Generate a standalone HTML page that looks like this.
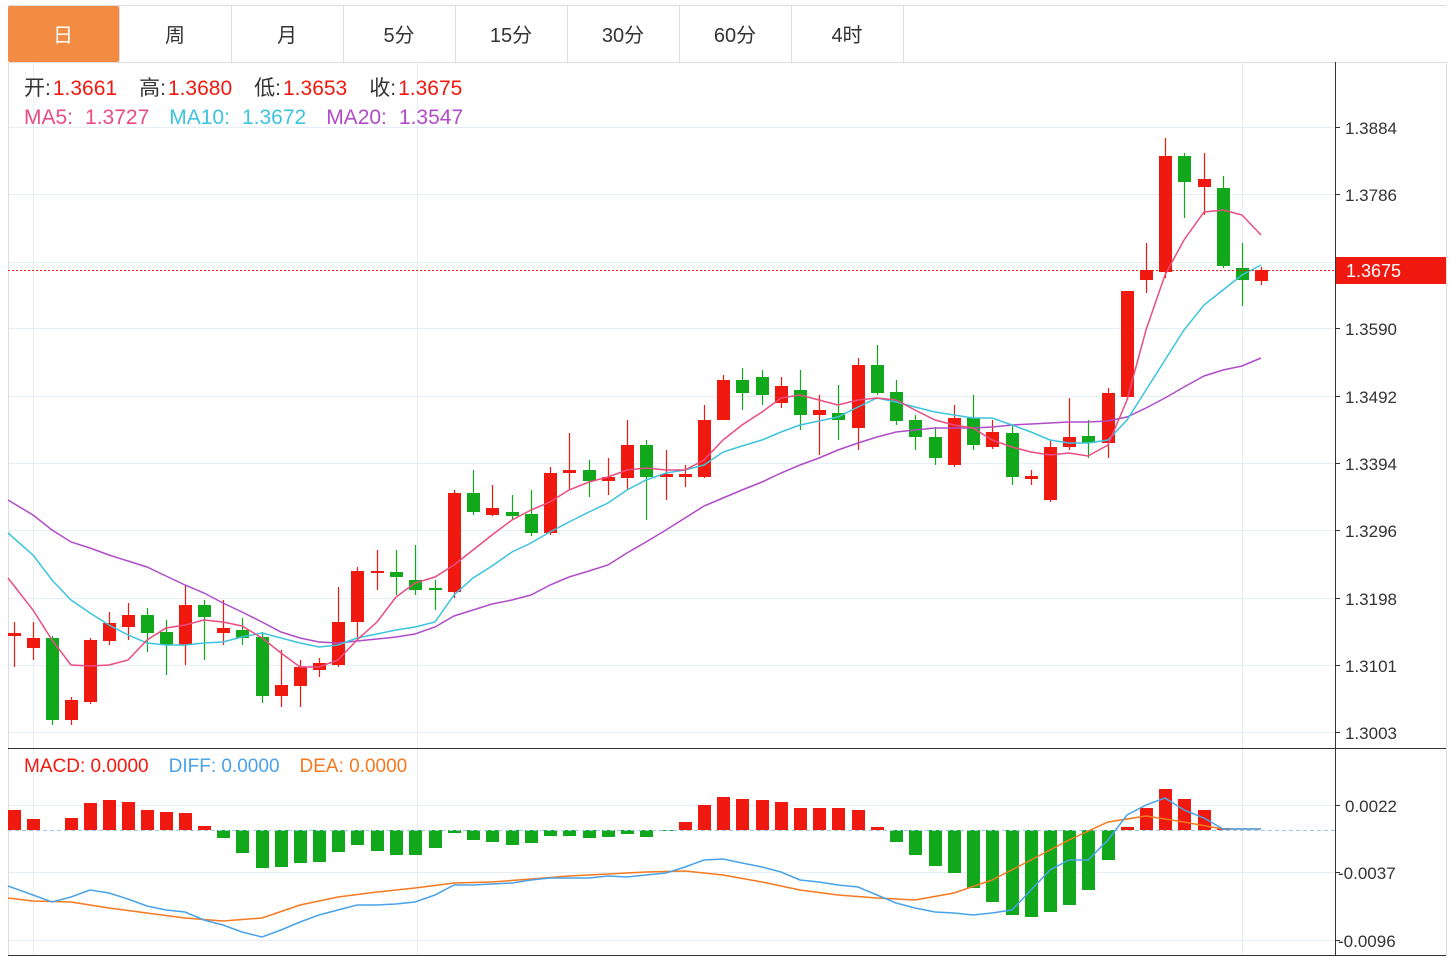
<!DOCTYPE html><html><head><meta charset="utf-8"><style>
body{margin:0;background:#fff;width:1452px;height:958px;overflow:hidden;font-family:"Liberation Sans","Noto Sans CJK SC",sans-serif}
svg{position:absolute;left:0;top:0}
</style></head><body>
<svg id="s" width="1452" height="958" xmlns="http://www.w3.org/2000/svg" font-family="Liberation Sans, Noto Sans CJK SC, sans-serif"></svg>
<script>
const s=document.getElementById('s');let h='';
h+='<line x1="8" y1="5.5" x2="1446" y2="5.5" stroke="#ddd"/><line x1="8" y1="62.5" x2="1446" y2="62.5" stroke="#ddd"/>';
h+='<rect x="8" y="6" width="111" height="56" rx="2" fill="#f28c42"/>';
const tabs=['日','周','月','5分','15分','30分','60分','4时'];
tabs.forEach((t,i)=>{const x=8+i*112;h+=`<text x="${x+55}" y="42" text-anchor="middle" font-size="20" fill="${i?'#333':'#fff'}">${t}</text>`;if(i>0)h+=`<line x1="${x-0.5}" y1="6" x2="${x-0.5}" y2="62" stroke="#ddd"/>`;});
h+='<line x1="903.5" y1="6" x2="903.5" y2="62" stroke="#ddd"/>';
const yl=[[127,'1.3884'],[194,'1.3786'],[262,'1.3688'],[328,'1.3590'],[396,'1.3492'],[463,'1.3394'],[530,'1.3296'],[598,'1.3198'],[665,'1.3101'],[732,'1.3003']];
yl.forEach(([y,t])=>{h+=`<line x1="8" y1="${y+.5}" x2="1335" y2="${y+.5}" stroke="#e6eef5"/><line x1="1335" y1="${y+.5}" x2="1340" y2="${y+.5}" stroke="#333"/><text x="1345" y="${y+7}" font-size="17" fill="#333">${t}</text>`});
[[805,'0.0022'],[872,'-0.0037'],[940,'-0.0096']].forEach(([y,t])=>{h+=`<line x1="8" y1="${y+.5}" x2="1335" y2="${y+.5}" stroke="#e6eef5"/><line x1="1335" y1="${y+.5}" x2="1340" y2="${y+.5}" stroke="#333"/><text x="${t[0]=='-'?1338:1345}" y="${y+7}" font-size="17" fill="#333">${t}</text>`});
[33,417,1242].forEach(x=>h+=`<line x1="${x+.5}" y1="62" x2="${x+.5}" y2="955" stroke="#e3eef8"/>`);
h+='<line x1="8.5" y1="62" x2="8.5" y2="955" stroke="#ddd"/><line x1="1446.5" y1="62" x2="1446.5" y2="955" stroke="#ddd"/>';
h+='<line x1="1335.5" y1="62" x2="1335.5" y2="955" stroke="#333"/><line x1="8" y1="748.5" x2="1446" y2="748.5" stroke="#333"/><line x1="8" y1="955.5" x2="1446" y2="955.5" stroke="#333"/>';
const c=[[14,636,633,622,667],[33,648,638,622,660],[52,638,720,636,725],[71,720,700,697,725],[90,702,640,638,704],[109,641,623,612,645],[128,627,615,603,640],[147,615,633,608,652],[166,632,645,620,675],[185,645,605,585,665],[204,605,617,600,660],[223,633,628,600,645],[242,630,638,618,645],[262,637,696,632,703],[281,696,685,650,707],[300,686,667,660,707],[319,670,663,658,677],[338,665,622,587,667],[357,622,571,567,640],[377,573,571,550,590],[396,572,577,550,595],[415,580,590,545,595],[435,588,590,580,610],[454,592,493,490,598],[473,493,512,470,515],[492,515,508,485,516],[512,512,516,495,520],[531,514,533,490,536],[550,533,473,467,535],[569,473,470,433,490],[589,470,481,460,497],[608,481,477,458,495],[627,478,445,420,490],[646,445,477,440,520],[666,477,474,450,500],[685,477,474,465,487],[704,477,420,405,478],[723,420,380,375,420],[742,380,393,368,410],[762,377,395,370,405],[781,403,386,377,408],[800,390,415,370,430],[819,415,410,395,455],[838,413,420,385,440],[858,428,365,358,450],[877,365,393,345,395],[896,392,421,380,425],[915,420,437,415,450],[935,437,458,427,465],[954,465,418,405,467],[973,418,445,395,450],[992,447,432,420,449],[1012,433,477,425,485],[1031,479,476,470,485],[1050,500,447,440,502],[1069,447,437,398,450],[1088,436,443,420,458],[1108,443,393,388,458],[1127,397,291,291,400],[1146,280,270,243,293],[1165,272,156,138,278],[1184,156,182,153,218],[1204,187,179,153,215],[1223,188,266,176,268],[1242,268,280,243,306],[1261,281,270,267,285]];
c.forEach(([x,o,cl,hi,lo])=>{const r=cl<=o,col=r?'#f0190f':'#12a81c';h+=`<line x1="${x+.5}" y1="${hi}" x2="${x+.5}" y2="${lo}" stroke="${col}" stroke-width="1.2"/><rect x="${x-6}" y="${Math.min(o,cl)}" width="13" height="${Math.max(2,Math.abs(o-cl))}" fill="${col}"/>`});
function pl(p,col){return `<polyline fill="none" stroke="${col}" stroke-width="1.5" points="${p.map(a=>a.join(',')).join(' ')}"/>`}
const ma5=[[8,578],[33,610],[52,640],[71,665],[90,666],[109,665],[128,660],[147,640],[166,628],[185,625],[204,620],[223,622],[242,626],[262,638],[281,653],[300,667],[319,667],[338,660],[357,640],[377,622],[396,597],[415,583],[435,577],[454,565],[473,550],[492,535],[512,520],[531,510],[550,502],[569,490],[589,482],[608,477],[627,470],[646,468],[666,470],[685,470],[704,460],[723,440],[742,425],[762,412],[781,398],[800,395],[819,400],[838,405],[858,400],[877,398],[896,400],[915,410],[935,420],[954,425],[973,428],[992,440],[1012,447],[1031,452],[1050,455],[1069,453],[1088,456],[1108,445],[1127,400],[1146,330],[1165,275],[1184,240],[1204,212],[1223,210],[1242,215],[1261,235]];
const ma10=[[8,533],[33,555],[52,580],[71,600],[90,613],[109,625],[128,635],[147,643],[166,645],[185,645],[204,643],[223,642],[242,637],[262,633],[281,638],[300,643],[319,647],[338,645],[357,638],[377,634],[396,630],[415,627],[435,622],[454,595],[473,578],[492,566],[512,552],[531,543],[550,532],[569,522],[589,512],[608,503],[627,490],[646,480],[666,473],[685,470],[704,465],[723,452],[742,446],[762,440],[781,432],[800,425],[819,421],[838,417],[858,407],[877,398],[896,402],[915,407],[935,412],[954,415],[973,418],[992,418],[1012,425],[1031,432],[1050,440],[1069,443],[1088,443],[1108,440],[1127,420],[1146,390],[1165,360],[1184,330],[1204,305],[1223,290],[1242,275],[1261,265]];
const ma20=[[8,500],[33,515],[52,530],[71,542],[90,548],[109,555],[128,561],[147,567],[166,576],[185,585],[204,593],[223,603],[242,612],[262,622],[281,632],[300,638],[319,642],[338,643],[357,641],[377,639],[396,637],[415,634],[435,627],[454,616],[473,610],[492,604],[512,600],[531,595],[550,585],[569,577],[589,571],[608,565],[627,553],[646,542],[666,530],[685,518],[704,506],[723,498],[742,490],[762,482],[781,473],[800,465],[819,458],[838,450],[858,443],[877,437],[896,432],[915,430],[935,428],[954,428],[973,428],[992,427],[1012,425],[1031,424],[1050,423],[1069,422],[1088,422],[1108,421],[1127,417],[1146,408],[1165,398],[1184,387],[1204,376],[1223,370],[1242,366],[1261,358]];
h+=pl(ma20,'#b04cc8')+pl(ma10,'#3cc4de')+pl(ma5,'#e94c82');
h+='<line x1="8" y1="270.5" x2="1335" y2="270.5" stroke="#f0190f" stroke-dasharray="2,2"/><rect x="1336" y="257" width="110" height="27" fill="#f0190f"/><text x="1346" y="277" font-size="18" fill="#fff">1.3675</text>';
h+='<text x="24" y="95" font-size="21"><tspan fill="#333">开:</tspan><tspan fill="#f0190f" dx="2">1.3661</tspan><tspan fill="#333" dx="22">高:</tspan><tspan fill="#f0190f" dx="2">1.3680</tspan><tspan fill="#333" dx="22">低:</tspan><tspan fill="#f0190f" dx="2">1.3653</tspan><tspan fill="#333" dx="22">收:</tspan><tspan fill="#f0190f" dx="2">1.3675</tspan></text>';
h+='<text x="24" y="124" font-size="21"><tspan fill="#e94c82">MA5:</tspan><tspan fill="#e94c82" dx="12">1.3727</tspan><tspan fill="#3cc4de" dx="20">MA10:</tspan><tspan fill="#3cc4de" dx="12">1.3672</tspan><tspan fill="#b04cc8" dx="20">MA20:</tspan><tspan fill="#b04cc8" dx="12">1.3547</tspan></text>';
h+='<text x="24" y="772" font-size="19"><tspan fill="#f0190f">MACD: 0.0000</tspan><tspan fill="#4aa3e8" dx="20">DIFF: 0.0000</tspan><tspan fill="#f47920" dx="20">DEA: 0.0000</tspan></text>';
const mb=[[14,810],[33,819],[71,818],[90,803],[109,800],[128,802],[147,810],[166,812],[185,813],[204,826],[223,838],[242,853],[262,868],[281,867],[300,863],[319,862],[338,852],[357,845],[377,851],[396,855],[415,855],[435,848],[454,833],[473,840],[492,842],[512,845],[531,843],[550,836],[569,836],[589,838],[608,837],[627,834],[646,837],[666,831],[685,822],[704,805],[723,797],[742,799],[762,800],[781,802],[800,808],[819,808],[838,808],[858,810],[877,827],[896,842],[915,855],[935,866],[954,873],[973,888],[992,902],[1012,915],[1031,917],[1050,912],[1069,905],[1088,890],[1108,860],[1127,827],[1146,808],[1165,789],[1184,799],[1204,810],[1223,828]];
mb.forEach(([x,y])=>{const col=y<830?'#f0190f':'#12a81c';h+=`<rect x="${x-6}" y="${Math.min(y,830)}" width="13" height="${Math.max(1,Math.abs(y-830))}" fill="${col}"/>`});
h+='<line x1="8" y1="830.5" x2="1335" y2="830.5" stroke="#9cc8ea" stroke-dasharray="4,3"/>';
const diff=[[8,886],[33,895],[52,902],[71,897],[90,890],[109,893],[128,899],[147,906],[166,910],[185,912],[204,920],[223,925],[242,932],[262,937],[281,930],[300,922],[319,915],[338,910],[357,905],[377,905],[396,904],[415,902],[435,895],[454,885],[473,885],[492,884],[512,883],[531,880],[550,878],[569,878],[589,878],[608,876],[627,877],[646,875],[666,873],[685,867],[704,860],[723,859],[742,863],[762,867],[781,872],[800,880],[819,882],[838,885],[858,887],[877,895],[896,903],[915,908],[935,912],[954,913],[973,915],[992,913],[1012,910],[1031,890],[1050,870],[1069,860],[1088,860],[1108,840],[1127,815],[1146,805],[1165,798],[1184,810],[1204,818],[1223,829],[1261,829]];
const dea=[[8,898],[33,901],[71,902],[109,908],[147,913],[185,918],[223,921],[262,918],[300,905],[338,897],[377,892],[415,888],[454,883],[492,882],[531,879],[569,876],[608,874],[646,872],[685,871],[723,875],[762,882],[800,890],[838,895],[877,898],[915,900],[954,893],[992,880],[1031,860],[1069,840],[1108,822],[1146,816],[1184,822],[1223,829],[1261,829]];
h+=pl(dea,'#f47920')+pl(diff,'#4aa3e8');
s.innerHTML=h;
</script>
</body></html>
